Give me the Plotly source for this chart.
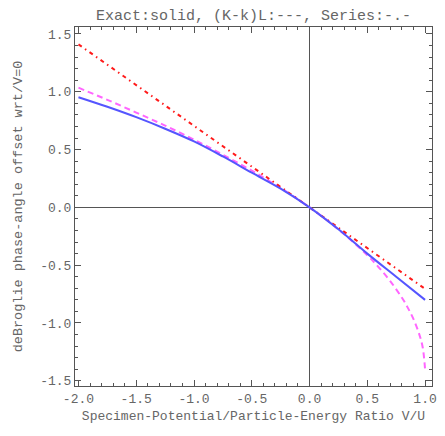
import plotly.graph_objects as go

# Exact (solid blue)
x_exact = [-2.0, -1.75, -1.5, -1.25, -1.0, -0.75, -0.5, -0.25, 0.0, 0.25, 0.5, 0.75, 1.0]
y_exact = [0.953, 0.87, 0.78, 0.68, 0.57, 0.44, 0.30, 0.162, 0.0, -0.19, -0.40, -0.60, -0.80]

# (K-k)L (dashed magenta)
x_kl = [-2.0, -1.75, -1.5, -1.25, -1.0, -0.75, -0.5, -0.25, 0.0, 0.25, 0.5, 0.6, 0.7, 0.8, 0.85, 0.9, 0.95, 0.98, 1.0]
y_kl = [1.035, 0.93, 0.82, 0.707, 0.586, 0.455, 0.318, 0.167, 0.0, -0.19, -0.414, -0.52, -0.64, -0.782, -0.867, -0.967, -1.098, -1.214, -1.40]

# Series (dash-dot red)
x_series = [-2.0, -1.0, 0.0, 1.0]
y_series = [1.41, 0.705, 0.0, -0.705]

xticks = [-2.0, -1.5, -1.0, -0.5, 0.0, 0.5, 1.0]
xtick_text = ["-2.0", "-1.5", "-1.0", "-0.5", "0.0", "0.5", "1.0"]
yticks = [-1.5, -1.0, -0.5, 0.0, 0.5, 1.0, 1.5]
ytick_text = ["-1.5", "-1.0", "-0.5", "0.0", "0.5", "1.0", "1.5"]

FONT = "Liberation Mono"
GRAY = "#555555"
TXT = "#666666"

fig = go.Figure()
fig.add_trace(go.Scatter(x=x_kl, y=y_kl, mode="lines", line=dict(color="#ff66ff", width=2, dash="6px,4px", shape="spline"), showlegend=False))
fig.add_trace(go.Scatter(x=x_series, y=y_series, mode="lines", line=dict(color="#ff1a1a", width=2, dash="4px,4px,1.5px,4px"), showlegend=False))
fig.add_trace(go.Scatter(x=x_exact, y=y_exact, mode="lines", line=dict(color="#5555ff", width=2, shape="spline"), showlegend=False))

axis_common = dict(
    showgrid=False,
    showline=True, linecolor=GRAY, linewidth=1, mirror="ticks",
    ticks="inside", ticklen=6, tickcolor=GRAY, tickwidth=1,
    minor=dict(ticks="inside", ticklen=3, tickcolor=GRAY, dtick=0.1),
    zeroline=True, zerolinecolor=GRAY, zerolinewidth=1,
    tickfont=dict(family=FONT, size=13, color=TXT),
    automargin=False,
)

fig.update_xaxes(range=[-2.03, 1.06], tickvals=xticks, ticktext=xtick_text,
                 title=dict(text="Specimen-Potential/Particle-Energy Ratio V/U", font=dict(family=FONT, size=13, color=TXT), standoff=5),
                 **axis_common)
fig.update_yaxes(range=[-1.545, 1.56], tickvals=yticks, ticktext=ytick_text,
                 title=dict(text="deBroglie phase-angle offset wrt/V=0", font=dict(family=FONT, size=13.5, color=TXT), standoff=14),
                 **axis_common)

fig.update_layout(
    width=429, height=420,
    margin=dict(l=67, r=5, t=19, b=42),
    paper_bgcolor="white", plot_bgcolor="white",
    title=dict(text="Exact:solid, (K-k)L:---, Series:-.-", x=0.5, xref="paper", y=0.997, yanchor="top",
               font=dict(family=FONT, size=15, color=TXT)),
)

fig.write_html("out.html")
